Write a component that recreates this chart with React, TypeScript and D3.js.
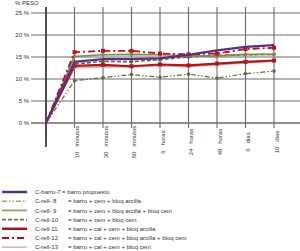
import React from "react";
import * as d3 from "d3";

// categories (first is the origin, no label)
const categories = ["", "10 minutos", "30 minutos", "60 minutos", "6 horas", "24 horas", "48 horas", "6 dias", "10 dias"];
const yTicks = [0, 5, 10, 15, 20, 25];

const cBarro7 = [0, 13.9, 14.5, 14.5, 14.7, 15.5, 16.5, 17.3, 17.7];
const cRell8 = [0, 9.6, 10.3, 11.0, 10.4, 11.1, 10.2, 11.2, 11.8];
const cRell9 = [0, 15.1, 15.5, 15.6, 15.5, 15.3, 15.2, 15.6, 15.6];
const cRell10 = [0, 13.4, 14.0, 13.9, 14.4, 15.0, 15.4, 15.5, 15.6];
const cRell11 = [0, 13.0, 13.2, 12.9, 13.3, 13.1, 13.5, 13.9, 14.2];
const cRell12 = [0, 16.1, 16.4, 16.4, 15.8, 15.6, 15.8, 16.8, 17.1];
const cRell13 = [0, 12.5, 12.8, 12.7, 13.0, 12.8, 13.2, 13.6, 14.0];

const seriesNames = ["C-barro-7", "C-rell- 8", "C-rell- 9", "C-rell-10", "C-rell-11", "C-rell-12", "C-rell-13"];
const seriesDesc = [
  "= barro propuesto",
  "= barro + cem + bloq arcilla",
  "= barro + cem + bloq arcilla + bloq cem",
  "= barro + cem + bloq cem",
  "= barro + cal + cem + bloq arcilla",
  "= barro + cal + cem + bloq arcilla + bloq cem",
  "= barro + cal + cem + bloq cem",
];

const styles = [
  { color: "#5b2d8c", width: 2.2, dash: "", legendColor: "#5b2d8c", marker: "" },
  { color: "#5f6e32", width: 1.2, dash: "5,2,1.5,2,1.5,2", legendColor: "#a3a86e", marker: "circle" },
  { color: "#7d8c4c", width: 1.6, dash: "", legendColor: "#9aa070", marker: "circle" },
  { color: "#4f6a2a", width: 1.5, dash: "4,2", legendColor: "#6e7a3e", marker: "circle" },
  { color: "#b0141c", width: 2.2, dash: "", legendColor: "#a8141c", marker: "rect" },
  { color: "#c2101a", width: 1.8, dash: "7,3,2,3", legendColor: "#b8101a", marker: "rect" },
  { color: "#e2a4a4", width: 1.4, dash: "", legendColor: "#e6b4b4", marker: "" },
];

const allSeries = [cBarro7, cRell8, cRell9, cRell10, cRell11, cRell12, cRell13];
const drawOrder = [6, 4, 3, 2, 1, 5, 0];

const App = () => {
  const width = 300;
  const height = 251;
  const x = d3.scalePoint<string>().domain(categories).range([46, 274]);
  const y = d3.scaleLinear().domain([0, 25]).range([123, 13]);
  const line = d3
    .line<number>()
    .x((d, i) => x(categories[i]) as number)
    .y((d) => y(d));
  const font = "'Liberation Sans', Arial, sans-serif";
  const fs = 6;

  return (
    <svg width={width} height={height} style={{ position: "absolute", left: 0, top: 0 }} fontFamily={font}>
      <rect width={width} height={height} fill="#fff" />
      {/* horizontal grid */}
      {yTicks.map((t) => (
        <g key={t}>
          <line x1={31} x2={300} y1={y(t)} y2={y(t)} stroke={t === 0 ? "#222" : "#6a6a6a"} strokeWidth={1} />
          <text x={29} y={y(t)} dy="0.35em" fontSize={fs} textAnchor="end" fill="#333">
            {t} %
          </text>
        </g>
      ))}
      <text x={15} y={5} fontSize={fs} fill="#333">% PESO</text>
      {/* vertical grid */}
      {categories.slice(1).map((c) => (
        <g key={c}>
          <line x1={x(c)} x2={x(c)} y1={7} y2={128} stroke="#6a6a6a" strokeWidth={1.1} />
          <text
            transform={`translate(${(x(c) as number) + 2.5},142) rotate(-90)`}
            fontSize={fs}
            textAnchor="middle"
            dominantBaseline="central"
            fill="#333"
            style={{ whiteSpace: "pre" }}
          >
            {c.replace(" ", "   ")}
          </text>
        </g>
      ))}
      <line x1={46} x2={46} y1={7} y2={147} stroke="#222" strokeWidth={1.6} />
      {/* series */}
      {drawOrder.map((si) => {
        const s = styles[si];
        const data = allSeries[si];
        return (
          <g key={si}>
            <path d={line(data) || ""} fill="none" stroke={s.color} strokeWidth={s.width} strokeDasharray={s.dash} />
            {s.marker &&
              data.slice(1).map((v, i) =>
                s.marker === "circle" ? (
                  <circle key={i} cx={x(categories[i + 1])} cy={y(v)} r={1.8} fill={s.color} />
                ) : (
                  <rect key={i} x={(x(categories[i + 1]) as number) - 2} y={y(v) - 2} width={4} height={4} fill={s.color} />
                )
              )}
          </g>
        );
      })}
      {/* legend */}
      {seriesNames.map((n, i) => {
        const ly = 192 + i * 9.2;
        const s = styles[i];
        return (
          <g key={n}>
            <line x1={2} x2={27} y1={ly} y2={ly} stroke={s.legendColor} strokeWidth={s.width + 0.3} strokeDasharray={s.dash} />
            <text x={35} y={ly} dy="0.35em" fontSize={fs} fill="#333">{n}</text>
            <text x={i === 0 ? 62 : 68} y={ly} dy="0.35em" fontSize={fs} fill="#333">{seriesDesc[i]}</text>
          </g>
        );
      })}
    </svg>
  );
};

export default App;
